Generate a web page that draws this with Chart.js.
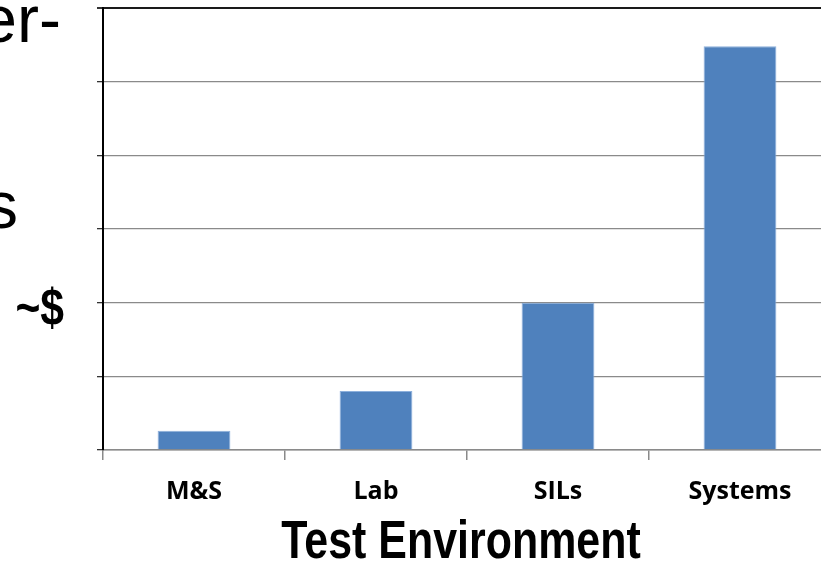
<!DOCTYPE html>
<html>
<head>
<meta charset="utf-8">
<script src="https://cdn.jsdelivr.net/npm/chart.js@4/dist/chart.umd.min.js"></script>
<style>
  html, body { margin: 0; padding: 0; background: #fff; overflow: hidden; }
  #wrap { position: relative; width: 821px; height: 562px; overflow: hidden; }
  #costChart { position: absolute; left: 0; top: 0; }
  .cut { position: absolute; white-space: nowrap; line-height: 1; color: #000; transform: translateX(-100%); }
  .narrow { transform-origin: 100% 0; transform: translateX(-100%) scaleX(0.82); }
</style>
</head>
<body>
<div id="wrap">
  <canvas id="costChart" width="840" height="562"></canvas>
  <!-- slide text that the chart sits over, cut off at the left edge -->
  <span class="cut" style="left:61px; top:-19px; font:66px 'Liberation Sans', Arial, sans-serif;">er-</span>
  <span class="cut" style="left:18px; top:167px; font:66px 'Liberation Sans', Arial, sans-serif;">s</span>
  <span class="cut narrow" style="left:64px; top:277px; font:bold 52px 'Liberation Sans', Arial, sans-serif;">~$</span>
</div>
<script>
const categories = ['M&S', 'Lab', 'SILs', 'Systems'];
const costValues = [0.26, 0.8, 2.0, 5.48];
const yMax = 6;
const xTitle = 'Test Environment';

const gridGray = '#8a8a8a';

// axis title in a narrow bold face (Arial Narrow look): draw Liberation Sans squeezed
const narrowTitle = {
  id: 'narrowTitle',
  afterDraw(chart) {
    const c = chart.ctx;
    const area = chart.chartArea;
    c.save();
    c.font = 'bold 53px "Liberation Sans", Arial, sans-serif';
    c.fillStyle = '#000';
    c.textAlign = 'center';
    c.textBaseline = 'alphabetic';
    c.translate((area.left + area.right) / 2 - 6, 558);
    c.scale(0.81, 1);
    c.fillText(xTitle, 0, 0);
    c.restore();
  }
};

const ctx = document.getElementById('costChart').getContext('2d');
const costChart = new Chart(ctx, {
  type: 'bar',
  data: {
    labels: categories,
    datasets: [{
      label: 'Cost',
      data: costValues,
      backgroundColor: '#4f81bd',
      borderColor: '#8db0dc',
      borderWidth: 1,
      categoryPercentage: 1,
      barPercentage: 0.4
    }]
  },
  options: {
    responsive: false,
    devicePixelRatio: 1,
    animation: false,
    layout: { padding: { left: 97, top: 8, right: 9, bottom: 0 } },
    plugins: {
      legend: { display: false },
      tooltip: { enabled: false }
    },
    scales: {
      x: {
        offset: true,
        grid: {
          offset: true,
          drawOnChartArea: false,
          tickLength: 10,
          color: gridGray,
          lineWidth: 1.5
        },
        border: { color: gridGray, width: 1.5 },
        ticks: {
          color: '#000',
          padding: 17,
          font: { family: "'Open Sans', Calibri, sans-serif", size: 25, weight: 'bold' }
        },
        afterFit: function(scale) { scale.height = 112; }
      },
      y: {
        min: 0,
        max: yMax,
        ticks: { display: false, stepSize: 1 },
        grid: {
          color: c => c.tick && c.tick.value === yMax ? '#1a1a1a' : gridGray,
          lineWidth: c => c.tick && c.tick.value === yMax ? 2 : 1.3,
          tickColor: '#333',
          tickLength: 6
        },
        border: { color: '#000', width: 2 },
        afterFit: function(scale) { scale.width = 6; }
      }
    }
  },
  plugins: [narrowTitle]
});
</script>
</body>
</html>
